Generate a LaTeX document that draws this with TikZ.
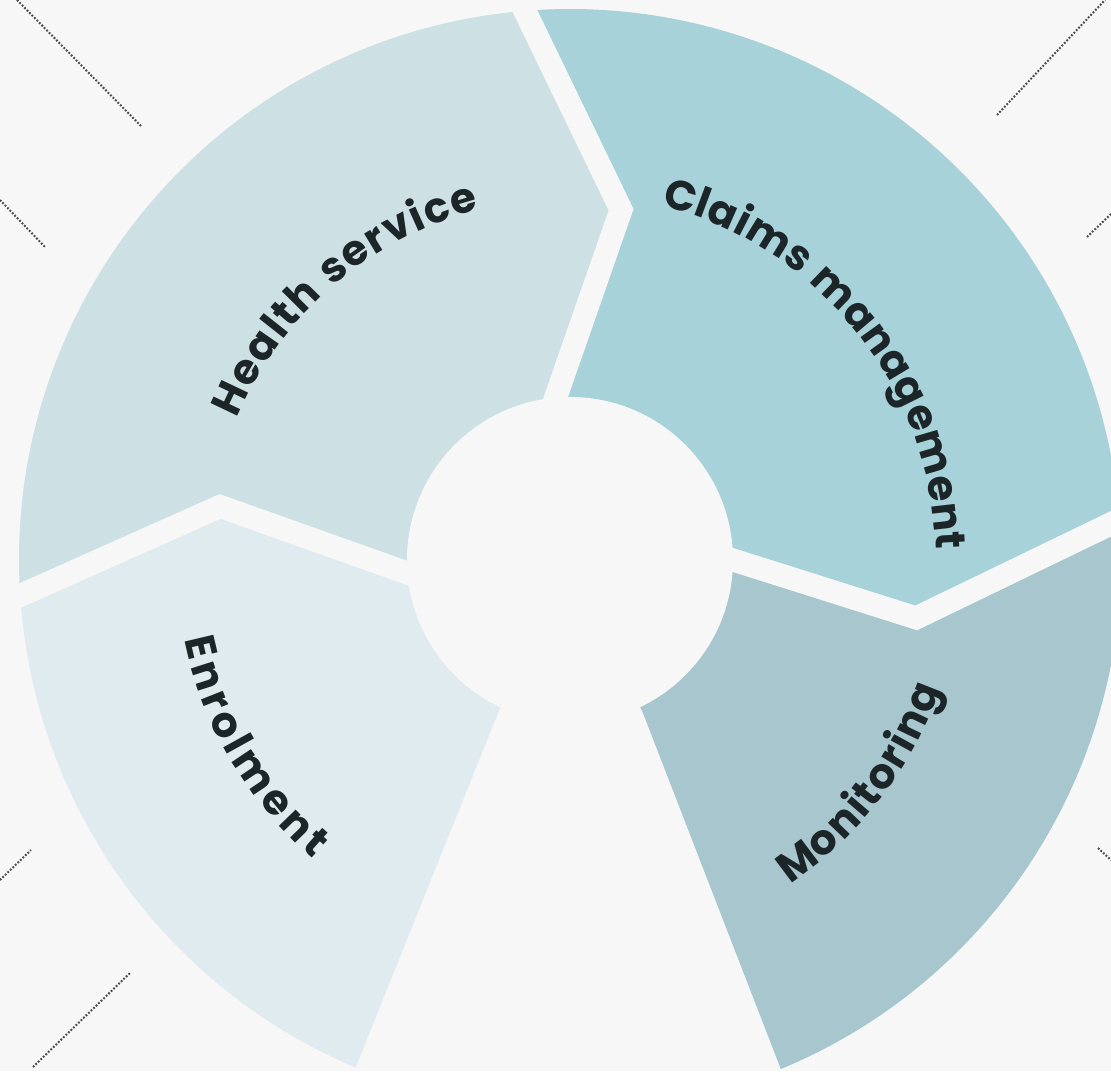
\documentclass[tikz,border=0pt]{standalone}
\usepackage{fontspec}
\newfontfamily\lblfont{Poppins}
\usetikzlibrary{decorations.text,calc}
\definecolor{bg}{HTML}{F7F7F7}
\definecolor{enrol}{HTML}{DFEBEE}
\definecolor{health}{HTML}{CDE1E5}
\definecolor{claims}{HTML}{A8D2D9}
\definecolor{monit}{HTML}{A7C6CE}
\definecolor{txt}{HTML}{1C2528}
\definecolor{dotc}{HTML}{4A4A4A}
\newcommand\lblsty{\lblfont\bfseries\fontsize{42}{42}\selectfont}
\begin{document}
\begin{tikzpicture}[x=1pt,y=1pt,
  gapline/.style={draw=bg,line width=23pt,line join=miter,miter limit=20},
  dotline/.style={draw=dotc,line width=2pt,dash pattern=on 1.8pt off 1.7pt},
  lbl/.style={decorate,decoration={text along path,text align=fit to path,text color=txt}}
]
\useasboundingbox (0,0) rectangle (1111,1071);
\fill[bg] (0,0) rectangle (1111,1071);
% dotted diagonal lines
\draw[dotline] (17,1071) -- (142,944);
\draw[dotline] (0,871) -- (45,824);
\draw[dotline] (997,956) -- (1105,1071);
\draw[dotline] (1087,834) -- (1111,857);
\draw[dotline] (0,191) -- (31,221);
\draw[dotline] (33,4) -- (130,98);
\draw[dotline] (1098,223) -- (1111,211);
\coordinate (C) at (570,511);
\begin{scope}[shift={(C)}]
  \coordinate (D1in) at (184:167pt);
  \coordinate (D1ap) at (171.3:354pt);
  \coordinate (D1out) at (183.7:551pt);
  \coordinate (D2in) at (94.9:164pt);
  \coordinate (D2ap) at (81.7:354pt);
  \coordinate (D2out) at (94.7:551pt);
  \coordinate (D3in) at (0:163pt);
  \coordinate (D3ap) at (-9.5:351pt);
  \coordinate (D3out) at (4.2:551pt);
  \coordinate (ELin) at (244.8:169pt);
  \coordinate (MLin) at (-64.5:169pt);
  \coordinate (O) at (0,0);
  % segments
  \fill[enrol] (D1in) -- (D1ap) -- (D1out) arc[start angle=183.7,end angle=247.1,radius=551pt] -- (ELin) -- (O) -- cycle;
  \fill[health] (D1in) -- (D1ap) -- (D1out) arc[start angle=183.7,end angle=94.7,radius=551pt] -- (D2ap) -- (D2in) -- (O) -- cycle;
  \fill[claims] (D2in) -- (D2ap) -- (D2out) arc[start angle=94.7,end angle=4.2,radius=551pt] -- (D3ap) -- (D3in) -- (O) -- cycle;
  \fill[monit] (D3in) -- (D3ap) -- (D3out) arc[start angle=4.2,end angle=-67.5,radius=551pt] -- (MLin) -- (O) -- cycle;
  % gaps
  \draw[gapline] ($(D1ap)!1.4!(D1in)$) -- (D1ap) -- ($(D1ap)!1.3!(D1out)$);
  \draw[gapline] ($(D2ap)!1.4!(D2in)$) -- (D2ap) -- ($(D2ap)!1.3!(D2out)$);
  \draw[gapline] ($(D3ap)!1.4!(D3in)$) -- (D3ap) -- ($(D3ap)!1.3!(D3out)$);
  % inner circle
  \fill[bg] (O) circle[radius=163pt];
  % labels
  \path[lbl,decoration={text={|\lblsty|Health service}}] (157:362pt) arc[start angle=157,end angle=104.5,radius=362pt];
  \path[lbl,decoration={text={|\lblsty|Claims management}}] (75.6:366pt) arc[start angle=75.6,end angle=1.6,radius=366pt];
  \path[lbl,decoration={text={|\lblsty|Enrolment}}] (191.7:394pt) arc[start angle=191.7,end angle=229.3,radius=394pt];
  \path[lbl,decoration={text={|\lblsty|Monitoring}}] (304.1:392pt) arc[start angle=304.1,end angle=340.8,radius=392pt];
\end{scope}
\end{tikzpicture}
\end{document}
